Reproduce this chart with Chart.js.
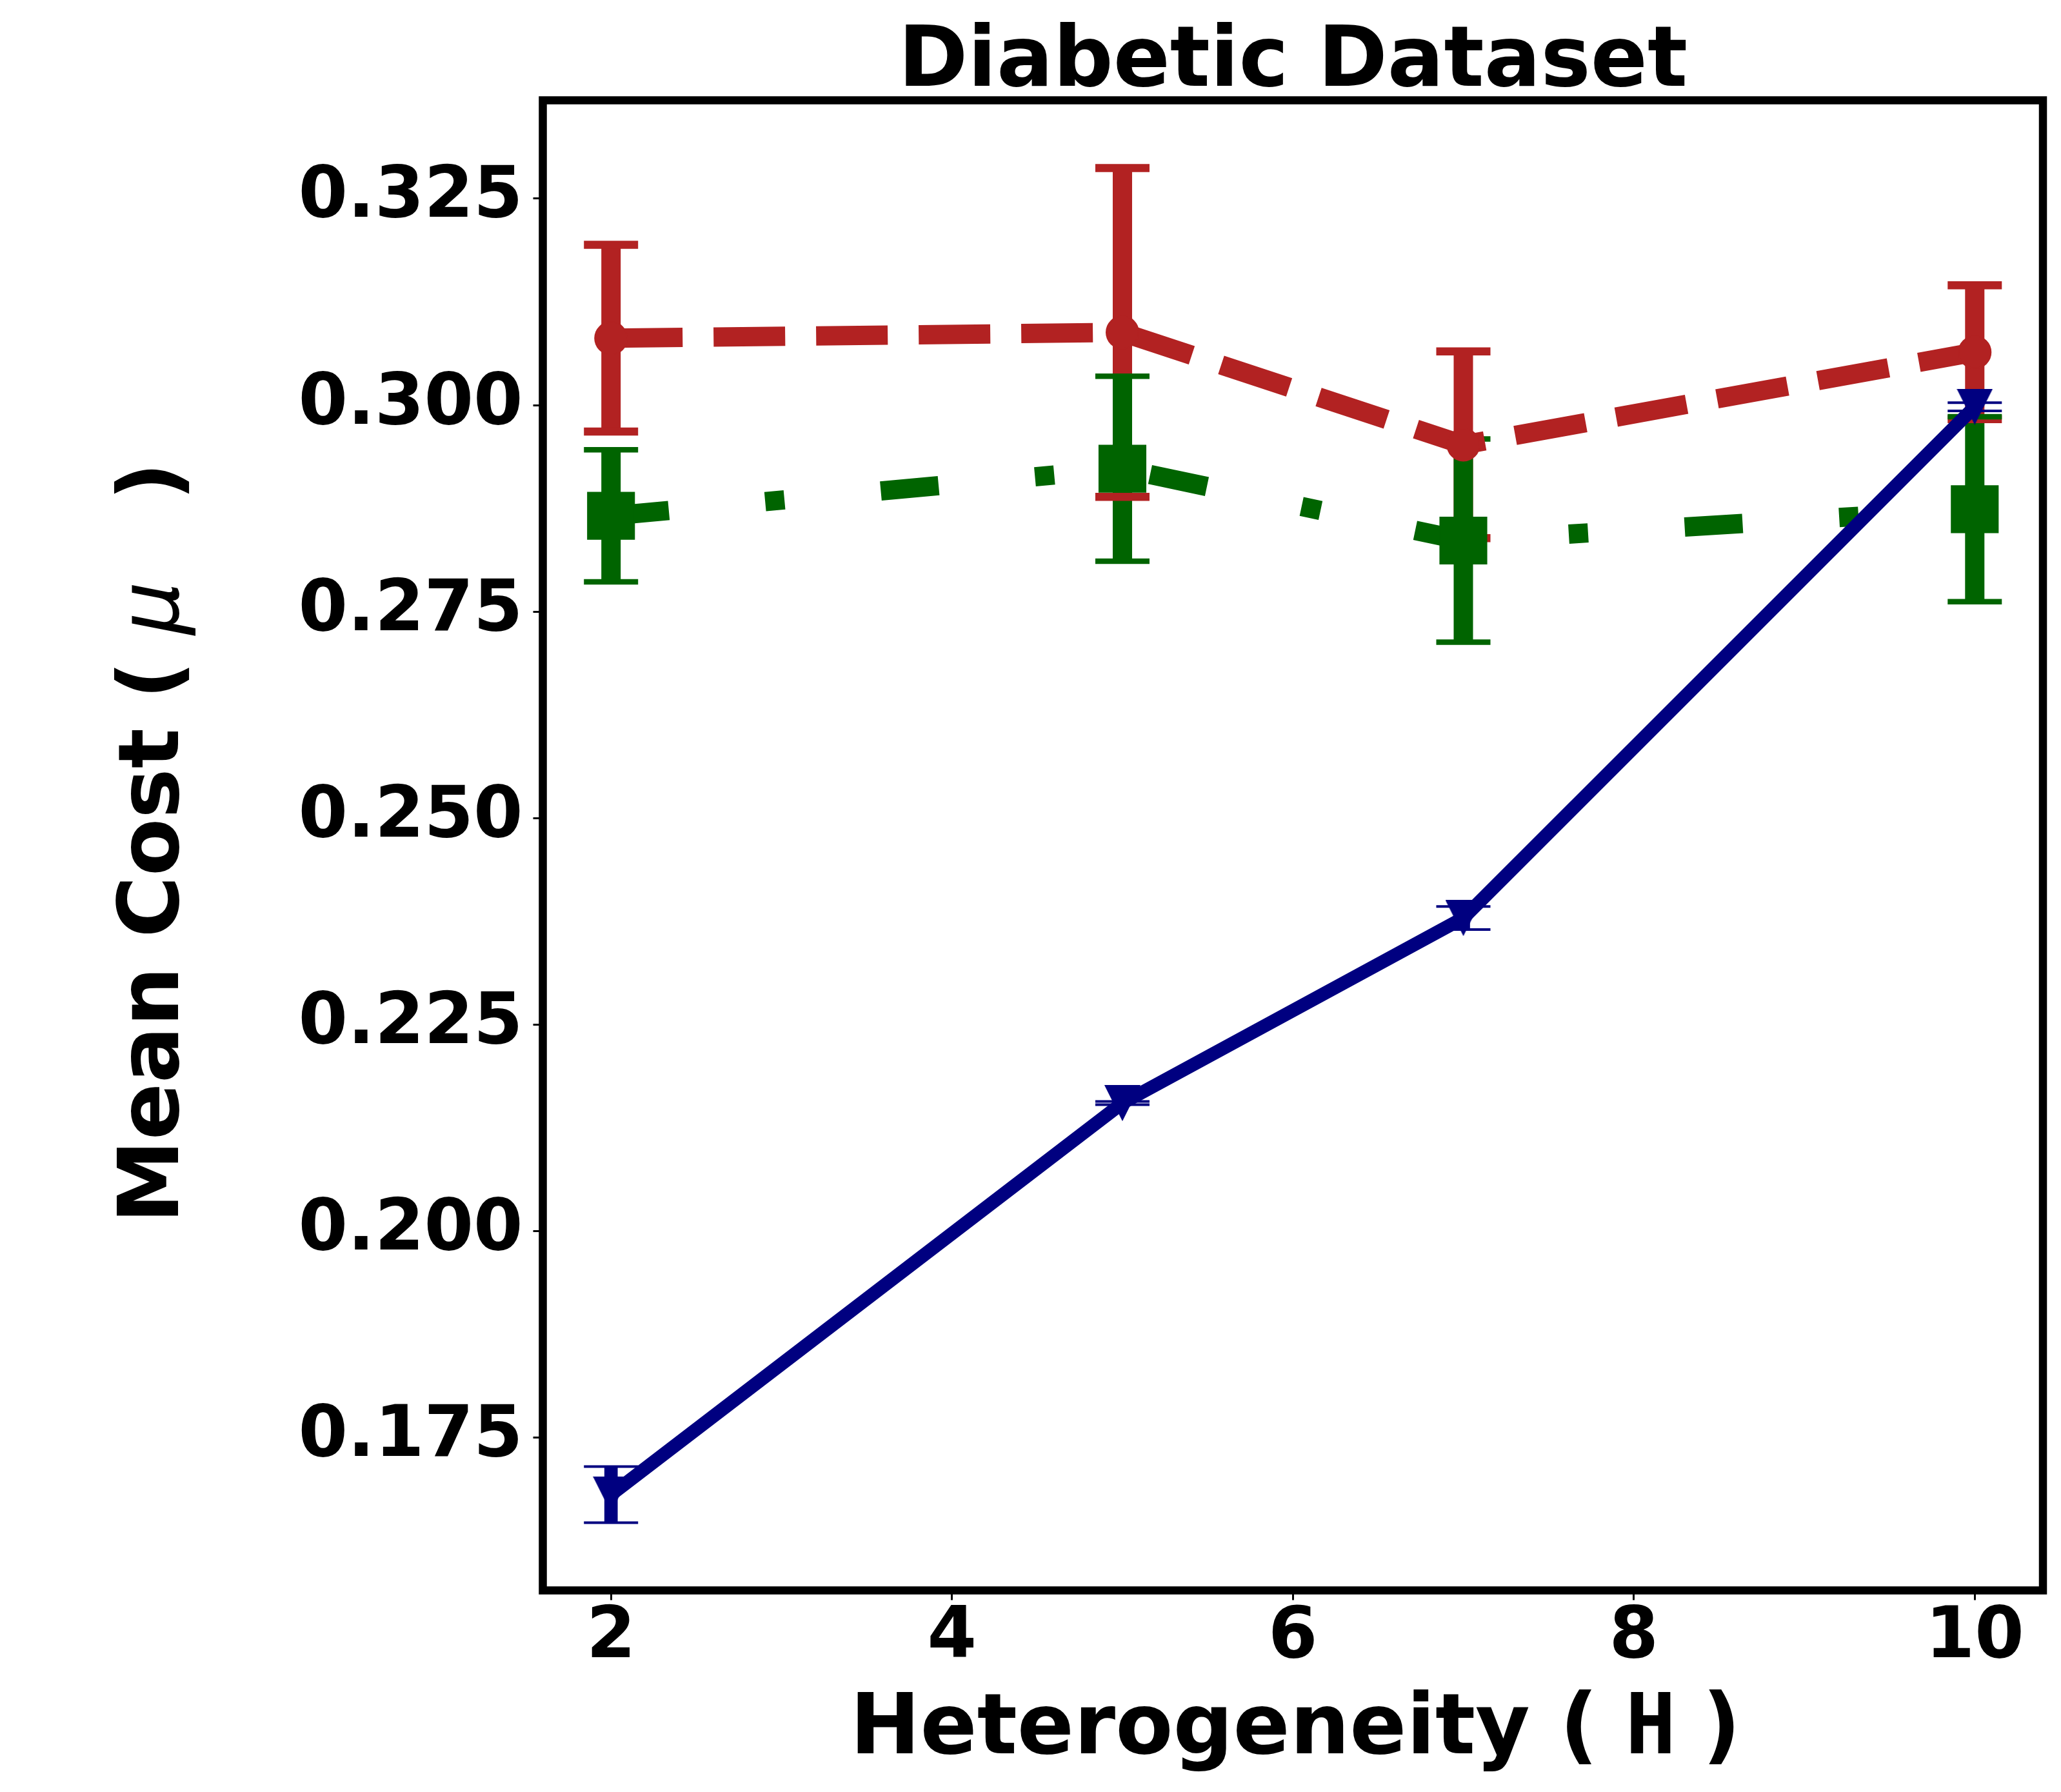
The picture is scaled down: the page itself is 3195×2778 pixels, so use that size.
<!DOCTYPE html>
<html>
<head>
<meta charset="utf-8">
<title>Diabetic Dataset</title>
<script src="https://cdn.jsdelivr.net/npm/chart.js@4.4.1/dist/chart.umd.min.js"></script>
<style>
  html, body { margin: 0; padding: 0; background: #fff; }
  #chart { display: block; }
</style>
</head>
<body>
<canvas id="chart" width="3195" height="2778"></canvas>
<script>
// Valores de heterogeneidad (eje x)
const heterogeneity = [2, 5, 7, 10];

// Coste medio y su error para cada serie
const redMean = [0.3081, 0.3088, 0.2952, 0.3064];
const redErr = [0.0113, 0.0199, 0.0113, 0.0081];
const greenMean = [0.2866, 0.2923, 0.2836, 0.2874];
const greenErr = [0.0080, 0.0112, 0.0123, 0.0112];
const blueMean = [0.1681, 0.2155, 0.2379, 0.2998];
const blueErr = [0.0034, 0.0002, 0.0014, 0.0005];

// Etiquetas de los ejes
const xTicks = [2, 4, 6, 8, 10];
const yTicks = [0.175, 0.200, 0.225, 0.250, 0.275, 0.300, 0.325];

const RED = '#b22222';
const GREEN = '#006400';
const NAVY = '#000080';
const FONT = 'DejaVu Sans';

// Limites como matplotlib: 5% de margen sobre los datos
const xMin = Math.min(...heterogeneity), xMax = Math.max(...heterogeneity);
const xPad = (xMax - xMin) * 0.05;
const allLo = [], allHi = [];
[[redMean, redErr], [greenMean, greenErr], [blueMean, blueErr]].forEach(([m, e]) => {
    m.forEach((v, i) => { allLo.push(v - e[i]); allHi.push(v + e[i]); });
});
const yLo = Math.min(...allLo), yHi = Math.max(...allHi);
const yPad = (yHi - yLo) * 0.05;

function toPoints(means) {
    return heterogeneity.map((h, i) => ({ x: h, y: means[i] }));
}

// Marcador triangulo hacia abajo (como 'v' de matplotlib)
function makeDownTriangle(size, color) {
    const c = document.createElement('canvas');
    c.width = size;
    c.height = size;
    const g = c.getContext('2d');
    g.fillStyle = color;
    g.beginPath();
    g.moveTo(0, 0);
    g.lineTo(size, 0);
    g.lineTo(size / 2, size);
    g.closePath();
    g.fill();
    return c;
}

// Barras de error: primero las verticales, luego los topes
const errorBarPlugin = {
    id: 'errorBars',
    beforeDatasetsDraw(chart) {
        const ctx = chart.ctx;
        const xs = chart.scales.x, ys = chart.scales.y;
        const sets = chart.data.datasets;
        ctx.save();
        ctx.lineCap = 'butt';
        sets.forEach(ds => {
            ctx.strokeStyle = ds.borderColor;
            ctx.lineWidth = ds.errLineWidth;
            ds.data.forEach((p, i) => {
                const px = xs.getPixelForValue(p.x);
                ctx.beginPath();
                ctx.moveTo(px, ys.getPixelForValue(p.y - ds.errors[i]));
                ctx.lineTo(px, ys.getPixelForValue(p.y + ds.errors[i]));
                ctx.stroke();
            });
        });
        sets.forEach(ds => {
            ctx.strokeStyle = ds.borderColor;
            ctx.lineWidth = ds.capThick;
            ds.data.forEach((p, i) => {
                const px = xs.getPixelForValue(p.x);
                [p.y - ds.errors[i], p.y + ds.errors[i]].forEach(v => {
                    const py = ys.getPixelForValue(v);
                    ctx.beginPath();
                    ctx.moveTo(px - 42, py);
                    ctx.lineTo(px + 42, py);
                    ctx.stroke();
                });
            });
        });
        ctx.restore();
    }
};

// Marco negro alrededor del area del grafico
const framePlugin = {
    id: 'frame',
    afterDatasetsDraw(chart) {
        const a = chart.chartArea;
        const ctx = chart.ctx;
        ctx.save();
        ctx.strokeStyle = '#000';
        ctx.lineWidth = 12.5;
        ctx.lineJoin = 'miter';
        ctx.strokeRect(a.left, a.top, a.right - a.left, a.bottom - a.top);
        ctx.restore();
    }
};

function drawInkAt(ctx, text, font, inkLeft, baseline) {
    ctx.font = font;
    const m = ctx.measureText(text);
    ctx.fillText(text, inkLeft + m.actualBoundingBoxLeft, baseline);
}

// Titulo y etiquetas de los ejes (con partes en otra fuente)
const labelsPlugin = {
    id: 'labels',
    afterDraw(chart) {
        const a = chart.chartArea;
        const ctx = chart.ctx;
        const cx = (a.left + a.right) / 2;
        const cy = (a.top + a.bottom) / 2;
        const bold = 'bold 130px "' + FONT + '"';
        ctx.save();
        ctx.fillStyle = '#000';
        ctx.textBaseline = 'alphabetic';

        ctx.font = bold;
        ctx.textAlign = 'center';
        ctx.fillText('Diabetic Dataset', cx, a.top - 22.5);

        ctx.textAlign = 'left';
        const xb = a.bottom + 252.5;
        drawInkAt(ctx, 'Heterogeneity', bold, cx - 675.5, xb);
        drawInkAt(ctx, '(', bold, cx + 424.8, xb);
        drawInkAt(ctx, 'H', 'bold 130px "DejaVu Sans Mono"', cx + 523.5, xb);
        drawInkAt(ctx, ')', bold, cx + 644.8, xb);

        ctx.translate(276, cy + 575);
        ctx.rotate(-Math.PI / 2);
        drawInkAt(ctx, 'Mean Cost (', bold, 0, 0);
        drawInkAt(ctx, 'μ', 'italic 130px "' + FONT + '"', 899.5, 0);
        drawInkAt(ctx, ')', bold, 1119.5, 0);
        ctx.restore();
    }
};

const tickFont = { family: FONT, size: 110, weight: 'bold', lineHeight: 1 };
const tickGrid = {
    drawOnChartArea: false,
    drawTicks: true,
    tickLength: 15,
    tickWidth: 3,
    tickColor: '#000'
};

Chart.defaults.font.family = FONT;

new Chart(document.getElementById('chart'), {
    type: 'line',
    data: {
        datasets: [
            {
                label: 'red',
                data: toPoints(redMean),
                errors: redErr,
                errLineWidth: 30,
                capThick: 12.5,
                borderColor: RED,
                backgroundColor: RED,
                borderWidth: 30,
                borderDash: [111, 48],
                borderJoinStyle: 'round',
                pointStyle: 'circle',
                pointRadius: 25,
                pointBorderWidth: 2,
                pointBorderColor: RED,
                pointBackgroundColor: RED,
                tension: 0,
                order: 1
            },
            {
                label: 'green',
                data: toPoints(greenMean),
                errors: greenErr,
                errLineWidth: 30,
                capThick: 8.5,
                borderColor: GREEN,
                backgroundColor: GREEN,
                borderWidth: 30,
                borderDash: [90, 150, 30, 150],
                borderJoinStyle: 'round',
                pointStyle: 'rect',
                pointRadius: 51,
                pointBorderWidth: 2,
                pointBorderColor: GREEN,
                pointBackgroundColor: GREEN,
                tension: 0,
                order: 2
            },
            {
                label: 'navy',
                data: toPoints(blueMean),
                errors: blueErr,
                errLineWidth: 20.7,
                capThick: 4,
                borderColor: NAVY,
                backgroundColor: NAVY,
                borderWidth: 20.7,
                borderJoinStyle: 'round',
                pointStyle: makeDownTriangle(56, NAVY),
                pointRadius: 28,
                tension: 0,
                order: 0
            }
        ]
    },
    options: {
        responsive: false,
        devicePixelRatio: 1,
        animation: false,
        events: [],
        layout: {
            autoPadding: false,
            padding: { top: 155.5, right: 28, left: 0, bottom: 0 }
        },
        plugins: {
            legend: { display: false },
            tooltip: { enabled: false },
            title: { display: false }
        },
        scales: {
            x: {
                type: 'linear',
                min: xMin - xPad,
                max: xMax + xPad,
                afterBuildTicks: axis => { axis.ticks = xTicks.map(v => ({ value: v })); },
                afterFit: axis => {
                    axis.height = 312.5;
                    axis.paddingLeft = 0;
                    axis.paddingRight = 0;
                },
                grid: tickGrid,
                border: { display: false },
                ticks: {
                    font: tickFont,
                    color: '#000',
                    padding: 5,
                    maxRotation: 0,
                    autoSkip: false,
                    callback: v => String(v)
                }
            },
            y: {
                type: 'linear',
                min: yLo - yPad,
                max: yHi + yPad,
                afterBuildTicks: axis => { axis.ticks = yTicks.map(v => ({ value: v })); },
                afterFit: axis => {
                    axis.width = 841.5;
                    axis.paddingTop = 0;
                    axis.paddingBottom = 0;
                },
                grid: tickGrid,
                border: { display: false },
                ticks: {
                    font: tickFont,
                    color: '#000',
                    padding: 16,
                    autoSkip: false,
                    callback: v => v.toFixed(3)
                }
            }
        }
    },
    plugins: [errorBarPlugin, framePlugin, labelsPlugin]
});
</script>
</body>
</html>
